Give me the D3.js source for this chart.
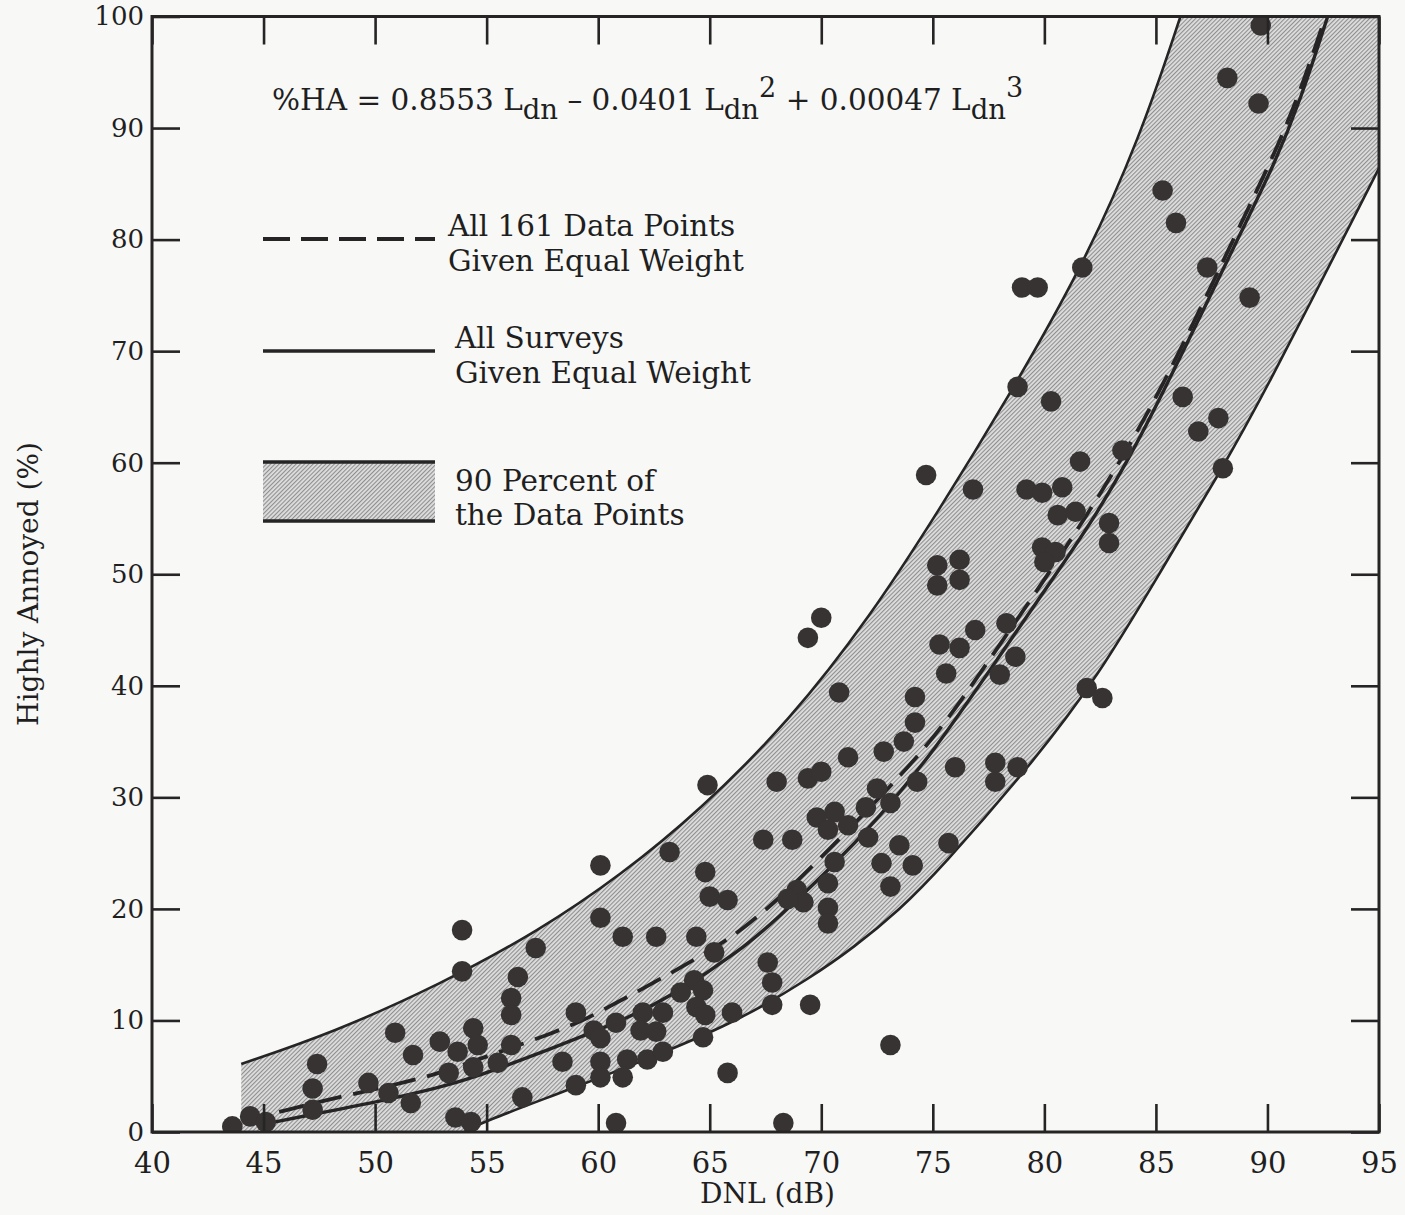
<!DOCTYPE html>
<html>
<head>
<meta charset="utf-8">
<script src="https://cdn.jsdelivr.net/npm/d3@7"></script>
<style>
  html, body { margin: 0; padding: 0; background: #f8f8f7; }
  svg { display: block; }
  text { font-family: "DejaVu Serif", "Liberation Serif", serif; fill: #1f1f1f; }
</style>
</head>
<body>
<svg id="chart" width="1405" height="1215"></svg>
<script>
// Axis ticks
const dnlTicks = [40, 45, 50, 55, 60, 65, 70, 75, 80, 85, 90, 95];
const haTicks = [0, 10, 20, 30, 40, 50, 60, 70, 80, 90, 100];

// Survey data points: [DNL (dB), % highly annoyed]
const surveyPoints = [
  [43.6, 0.5], [44.4, 1.4], [45.1, 0.9], [47.4, 6.1], [47.2, 3.9], [47.2, 2.0],
  [49.7, 4.4], [50.6, 3.5], [50.9, 8.9], [51.7, 6.9], [51.6, 2.6], [52.9, 8.1],
  [53.7, 7.2], [53.3, 5.3], [53.6, 1.3], [53.9, 18.1], [53.9, 14.4],
  [57.2, 16.5], [56.4, 13.9], [56.1, 12.0], [56.1, 10.5], [54.4, 9.3], [54.6, 7.8],
  [54.4, 5.8], [55.5, 6.2], [56.1, 7.8], [56.6, 3.1], [54.3, 0.9], [58.4, 6.3],
  [59.0, 10.7], [59.0, 4.2], [60.1, 6.3], [60.1, 4.9], [59.8, 9.1], [60.1, 8.4],
  [60.8, 9.8], [60.8, 0.8], [61.1, 17.5], [61.3, 6.5], [61.1, 4.9], [62.0, 10.7],
  [61.9, 9.1], [62.6, 9.0], [62.9, 10.7], [62.2, 6.5], [62.9, 7.2], [62.6, 17.5],
  [64.4, 17.5], [64.3, 13.6], [63.7, 12.5], [64.7, 12.7], [64.4, 11.2], [64.8, 10.5],
  [64.7, 8.5], [66.0, 10.7], [65.8, 5.3], [65.2, 16.1],
  [60.1, 19.2], [60.1, 23.9], [63.2, 25.1], [67.8, 13.4], [67.8, 11.4], [68.3, 0.8],
  [69.5, 11.4], [73.1, 7.8],
  [64.9, 31.1], [68.0, 31.4], [69.4, 31.7], [70.0, 32.3], [71.2, 33.6], [72.8, 34.1],
  [73.7, 35.0], [74.2, 36.7], [76.0, 32.7], [72.5, 30.8], [74.3, 31.4], [72.0, 29.1],
  [73.1, 29.5], [69.8, 28.2], [70.6, 28.7], [70.3, 27.1], [71.2, 27.5], [67.4, 26.2],
  [68.7, 26.2], [72.1, 26.4], [73.5, 25.7], [72.7, 24.1], [74.1, 23.9], [73.1, 22.0],
  [70.6, 24.2], [70.3, 22.3], [70.3, 20.1], [70.3, 18.7], [68.9, 21.7], [69.2, 20.6],
  [68.5, 20.9], [64.8, 23.3], [65.0, 21.1], [65.8, 20.8], [67.6, 15.2], [75.7, 25.9],
  [74.7, 58.9], [70.0, 46.1], [69.4, 44.3], [70.8, 39.4], [74.2, 39.0],
  [78.8, 66.8], [80.3, 65.5], [76.8, 57.6], [81.6, 60.1], [79.2, 57.6], [79.9, 57.3],
  [80.8, 57.8], [80.6, 55.3], [81.4, 55.6], [83.5, 61.1], [82.9, 54.6], [82.9, 52.8],
  [79.9, 52.4], [80.5, 52.0], [80.0, 51.1],
  [75.2, 50.8], [76.2, 51.3], [75.2, 49.0], [76.2, 49.5], [76.9, 45.0], [78.3, 45.6],
  [75.3, 43.7], [76.2, 43.4], [75.6, 41.1], [78.7, 42.6], [78.0, 41.0], [81.9, 39.8],
  [82.6, 38.9], [77.8, 33.1], [78.8, 32.7], [77.8, 31.4],
  [89.7, 99.2], [88.2, 94.5], [89.6, 92.2], [85.3, 84.4], [85.9, 81.5], [87.3, 77.5],
  [89.2, 74.8], [81.7, 77.5], [79.0, 75.7], [79.7, 75.7], [86.2, 65.9], [87.8, 64.0],
  [86.9, 62.8], [88.0, 59.5]
];

// Fitted curve, all 161 data points given equal weight (dashed)
const fitAllPoints = [
  [45.7, 1.8], [48.5, 3.2], [50.2, 3.9], [52.2, 4.9], [53.2, 5.5], [56.9, 8.1],
  [58.1, 9.0], [59.3, 10.0], [59.9, 10.6], [62.9, 13.8], [65.8, 17.2], [66.7, 18.6],
  [68.0, 20.7], [70.4, 25.4], [73.8, 32.4], [75.7, 37.0], [77.9, 43.4], [80.8, 51.8],
  [83.8, 61.3], [86.0, 69.6], [88.8, 81.4], [90.3, 87.6], [91.5, 93.4], [92.6, 100]
];

// Fitted curve, all surveys given equal weight (solid)
const fitSurveys = [
  [45.0, 0.7], [47.5, 1.7], [50.1, 2.7], [52.9, 4.0], [54.3, 4.8], [56.5, 6.4],
  [59.2, 8.5], [61.3, 10.2], [63.4, 12.3], [66.4, 16.3], [68.0, 19.1], [70.3, 23.4],
  [72.6, 28.2], [75.0, 34.0], [77.9, 42.4], [80.8, 50.8], [82.4, 55.6], [83.8, 60.4],
  [85.2, 65.8], [87.3, 74.4], [88.8, 80.6], [90.3, 86.7], [91.5, 92.6], [92.7, 100]
];

// Band holding 90 percent of the data points
const bandUpper = [
  [44.0, 6.1], [48.1, 8.9], [52.9, 13.2], [57.4, 18.1], [61.0, 23.0], [64.6, 28.9],
  [68.6, 36.9], [72.2, 46.2], [75.3, 55.8], [78.3, 65.6], [81.7, 77.5], [84.3, 89.2],
  [86.1, 100]
];
const bandLower = [
  [54.0, 0], [54.7, 0.8], [58.7, 3.8], [62.8, 7.0], [66.4, 10.1], [69.5, 13.8],
  [71.5, 16.6], [73.5, 19.9], [75.3, 23.5], [79.4, 32.9], [82.4, 40.8], [85.2, 50.2],
  [88.0, 59.6], [89.7, 65.6], [95.0, 86.4]
];

const legendEntries = [
  { kind: "dashed", lines: ["All 161 Data Points", "Given Equal Weight"] },
  { kind: "solid",  lines: ["All Surveys", "Given Equal Weight"] },
  { kind: "band",   lines: ["90 Percent of", "the Data Points"] }
];

const ink = "#262424";
const svg = d3.select("#chart");
const W = 1405, H = 1215;
const plot = { left: 152, top: 16.5, right: 1379, bottom: 1132 };

svg.append("rect").attr("width", W).attr("height", H).attr("fill", "#f8f8f7");

const x = d3.scaleLinear().domain([40, 95]).range([plot.left, plot.right]);
const y = d3.scaleLinear().domain([0, 100]).range([plot.bottom, plot.top]);

// Hatch fill used for the 90 percent band
const defs = svg.append("defs");
const pat = defs.append("pattern")
  .attr("id", "hatch").attr("patternUnits", "userSpaceOnUse")
  .attr("width", 3).attr("height", 3)
  .attr("patternTransform", "rotate(45)");
pat.append("rect").attr("width", 3).attr("height", 3).attr("fill", "#dedede");
pat.append("rect").attr("width", 1.1).attr("height", 3).attr("fill", "#8e8e8e");

defs.append("clipPath").attr("id", "plotClip")
  .append("rect")
  .attr("x", plot.left).attr("y", plot.top)
  .attr("width", plot.right - plot.left).attr("height", plot.bottom - plot.top);

const line = d3.line().x(d => x(d[0])).y(d => y(d[1])).curve(d3.curveBasis);

const g = svg.append("g").attr("clip-path", "url(#plotClip)");

// Band fill: upper edge, across the top-right corner, lower edge back, along the axis
const xMax = x.domain()[1];
const yMin = y.domain()[0], yMax = y.domain()[1];
const upperD = line(bandUpper);
const lowerD = line(bandLower.slice().reverse()).replace(/^M/, "L");
const bandD = upperD +
  "L" + x(xMax) + "," + y(yMax) +
  lowerD +
  "L" + x(bandUpper[0][0]) + "," + y(yMin) + "Z";
g.append("path").attr("d", bandD).attr("fill", "url(#hatch)").attr("stroke", "none");

g.append("path").attr("d", upperD).attr("fill", "none").attr("stroke", ink).attr("stroke-width", 2.6);
g.append("path").attr("d", line(bandLower)).attr("fill", "none").attr("stroke", ink).attr("stroke-width", 2.6);

// Fitted curves
g.append("path").attr("d", line(fitSurveys)).attr("fill", "none")
  .attr("stroke", ink).attr("stroke-width", 3.4);
g.append("path").attr("d", line(fitAllPoints)).attr("fill", "none")
  .attr("stroke", ink).attr("stroke-width", 3.8).attr("stroke-dasharray", "26,12");

// Data points
g.append("g").selectAll("circle").data(surveyPoints).join("circle")
  .attr("cx", d => x(d[0])).attr("cy", d => y(d[1])).attr("r", 10.3)
  .attr("fill", "#373333");

// Axes with inward ticks on all four sides
const tickLen = 28;
const axisStyle = sel => {
  sel.select(".domain").remove();
  sel.selectAll(".tick line").attr("stroke", ink).attr("stroke-width", 2.6);
};
svg.append("g").attr("transform", `translate(0,${plot.bottom})`)
  .call(d3.axisBottom(x).tickValues(dnlTicks).tickSizeInner(-tickLen).tickSizeOuter(0).tickPadding(20))
  .call(axisStyle)
  .call(s => s.selectAll("text").attr("font-size", 29).attr("font-family", "DejaVu Serif").attr("fill", "#1f1f1f"));
svg.append("g").attr("transform", `translate(${plot.left},0)`)
  .call(d3.axisLeft(y).tickValues(haTicks).tickSizeInner(-tickLen).tickSizeOuter(0).tickPadding(8))
  .call(axisStyle)
  .call(s => s.selectAll("text").attr("font-size", 26).attr("font-family", "DejaVu Serif").attr("fill", "#1f1f1f"));
svg.append("g").attr("transform", `translate(0,${plot.top})`)
  .call(d3.axisTop(x).tickValues(dnlTicks).tickSizeInner(-tickLen).tickSizeOuter(0).tickFormat(""))
  .call(axisStyle);
svg.append("g").attr("transform", `translate(${plot.right},0)`)
  .call(d3.axisRight(y).tickValues(haTicks).tickSizeInner(-tickLen).tickSizeOuter(0).tickFormat(""))
  .call(axisStyle);

svg.append("rect")
  .attr("x", plot.left).attr("y", plot.top)
  .attr("width", plot.right - plot.left).attr("height", plot.bottom - plot.top)
  .attr("fill", "none").attr("stroke", ink).attr("stroke-width", 3);

// Axis titles
svg.append("text").attr("x", (plot.left + plot.right) / 2 + 2).attr("y", 1203)
  .attr("text-anchor", "middle").attr("font-size", 28).text("DNL (dB)");
svg.append("text").attr("transform", "translate(38,584) rotate(-90)")
  .attr("text-anchor", "middle").attr("font-size", 28).text("Highly Annoyed (%)");

// Regression equation
const eq = svg.append("text").attr("x", 272).attr("y", 110).attr("font-size", 29.5);
const eqParts = [
  ["%HA = 0.8553 L", 0, 29.5], ["dn", 9, 27.5],
  [" \u2013 0.0401 L", -9, 29.5], ["dn", 9, 27.5], ["2", -22, 27],
  [" + 0.00047 L", 13, 29.5], ["dn", 9, 27.5], ["3", -22, 27]
];
eqParts.forEach(([t, dy, fs]) => eq.append("tspan").attr("dy", dy).attr("font-size", fs).text(t));

// Legend
const legendRows = [
  { y0: 239, textX: 448, base: [236, 271] },
  { y0: 351, textX: 455, base: [348, 383] },
  { y0: 462, y1: 521, textX: 455, base: [491, 525] }
];
const lx0 = 263, lx1 = 435;
legendEntries.forEach((e, i) => {
  const r = legendRows[i];
  if (e.kind === "dashed") {
    svg.append("line").attr("x1", lx0).attr("x2", lx1).attr("y1", r.y0).attr("y2", r.y0)
      .attr("stroke", ink).attr("stroke-width", 3.8).attr("stroke-dasharray", "27,11");
  } else if (e.kind === "solid") {
    svg.append("line").attr("x1", lx0).attr("x2", lx1).attr("y1", r.y0).attr("y2", r.y0)
      .attr("stroke", ink).attr("stroke-width", 3.6);
  } else {
    svg.append("rect").attr("x", lx0).attr("y", r.y0).attr("width", lx1 - lx0).attr("height", r.y1 - r.y0)
      .attr("fill", "url(#hatch)");
    [r.y0, r.y1].forEach(yy => svg.append("line").attr("x1", lx0).attr("x2", lx1)
      .attr("y1", yy).attr("y2", yy).attr("stroke", ink).attr("stroke-width", 3.6));
  }
  e.lines.forEach((t, k) => svg.append("text").attr("x", r.textX).attr("y", r.base[k])
    .attr("font-size", 29.5).text(t));
});
</script>
</body>
</html>
